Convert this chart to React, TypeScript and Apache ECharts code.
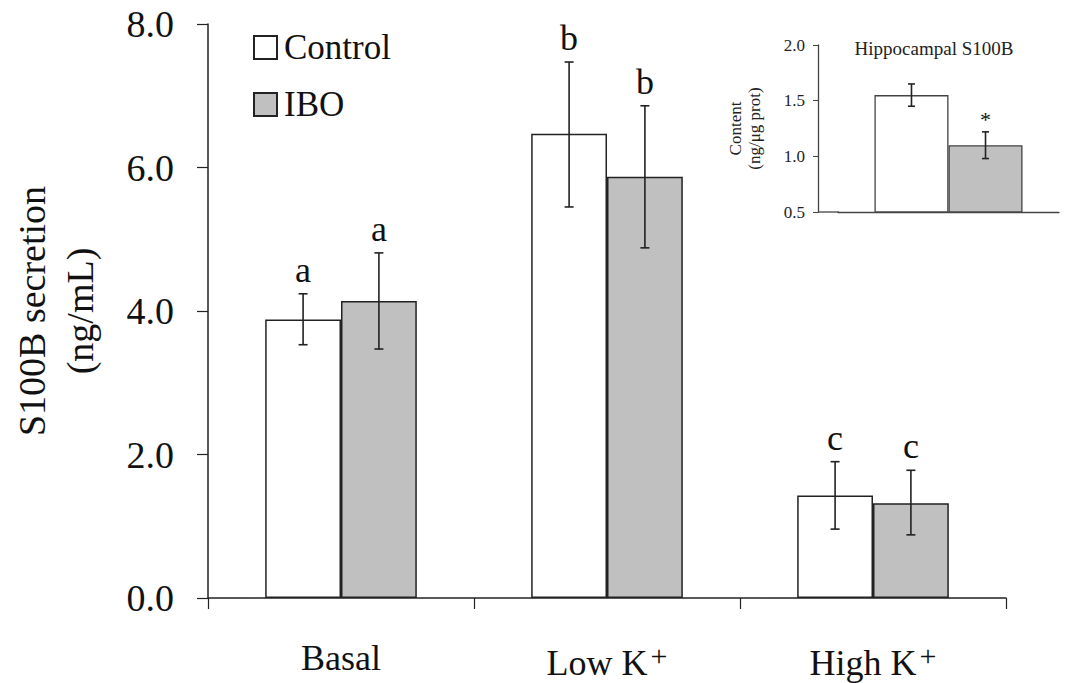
import React, { useEffect, useRef } from "react";
import * as echarts from "echarts";

const categories = ["Basal", "Low K+", "High K+"];
const controlMean = [3.88, 6.47, 1.43];
const controlLow = [3.53, 5.45, 0.96];
const controlHigh = [4.24, 7.47, 1.9];
const controlLetters = ["a", "b", "c"];
const iboMean = [4.14, 5.87, 1.32];
const iboLow = [3.47, 4.88, 0.88];
const iboHigh = [4.81, 6.86, 1.78];
const iboLetters = ["a", "b", "c"];

const insetCategory = ["Hippocampus"];
const insetControlMean = [1.55];
const insetControlErr = [[1.45, 1.65]];
const insetIboMean = [1.1];
const insetIboErr = [[0.98, 1.22]];
const insetIboMark = ["*"];

const FONT = "Liberation Serif";
const MAIN_GAP = 0.43;
const INSET_GAP = 0.33;

function makeErrRender(sign: number, gap: number, cap: number, textSize: number, textOffset: number) {
  return (params: any, api: any) => {
    const idx = api.value(0);
    const low = api.value(1);
    const high = api.value(2);
    const label = api.value(3);
    const catW = api.size([1, 0])[0];
    const barW = (catW * (1 - gap)) / 2;
    const top = api.coord([idx, high]);
    const bot = api.coord([idx, low]);
    const x = top[0] + (sign * barW) / 2;
    const style = { stroke: "#222", lineWidth: 1.6 };
    const children: any[] = [
      { type: "line", shape: { x1: x, y1: top[1], x2: x, y2: bot[1] }, style },
      { type: "line", shape: { x1: x - cap / 2, y1: top[1], x2: x + cap / 2, y2: top[1] }, style },
      { type: "line", shape: { x1: x - cap / 2, y1: bot[1], x2: x + cap / 2, y2: bot[1] }, style },
    ];
    if (label) {
      children.push({
        type: "text",
        style: {
          text: String(label),
          x,
          y: top[1] - textOffset,
          textAlign: "center",
          textVerticalAlign: "middle",
          fontFamily: FONT,
          fontSize: textSize,
          fill: "#111",
        },
      });
    }
    return { type: "group", children };
  };
}

function buildOption(): any {
  const barBorder = { borderColor: "#222", borderWidth: 1.5 };
  return {
    animation: false,
    backgroundColor: "#ffffff",
    textStyle: { fontFamily: FONT },
    title: {
      text: "Hippocampal S100B",
      left: 929,
      top: 34,
      textAlign: "center",
      textStyle: { fontFamily: FONT, fontSize: 19, fontWeight: "normal", color: "#222" },
    },
    legend: {
      data: ["Control", "IBO"],
      orient: "vertical",
      left: 248,
      top: 25,
      itemWidth: 23,
      itemHeight: 23,
      itemGap: 22,
      icon: "rect",
      textStyle: { fontFamily: FONT, fontSize: 35, color: "#111", padding: [0, 0, 0, 2] },
    },
    graphic: [
      {
        type: "line",
        shape: { x1: 818, y1: 212, x2: 839, y2: 212 },
        style: { stroke: "#444", lineWidth: 1.3 },
      },
    ],
    grid: [
      { left: 205, right: 68, top: 24, bottom: 85, containLabel: false },
      { left: 838, right: 15, top: 45, bottom: 471, containLabel: false },
    ],
    xAxis: [
      {
        type: "category",
        gridIndex: 0,
        data: categories,
        axisLine: { lineStyle: { color: "#222", width: 1.5 } },
        axisTick: { show: true, length: 11, lineStyle: { color: "#222", width: 1.2 } },
        axisLabel: {
          interval: 0,
          margin: 42,
          fontFamily: FONT,
          fontSize: 36,
          color: "#111",
          formatter: (v: string) =>
            v.indexOf("+") >= 0 ? "{n|" + v.replace("+", "") + "}{sup|+}" : "{n|" + v + "}",
          rich: {
            n: { fontFamily: FONT, fontSize: 36, color: "#111" },
            sup: { fontFamily: FONT, fontSize: 30, color: "#111", verticalAlign: "top", padding: [0, 0, 16, 3] },
          },
        },
      },
      {
        type: "category",
        gridIndex: 1,
        data: insetCategory,
        axisLine: { lineStyle: { color: "#444", width: 1.3 } },
        axisTick: { show: false },
        axisLabel: { show: false },
      },
    ],
    yAxis: [
      {
        type: "value",
        gridIndex: 0,
        min: 0,
        max: 8,
        interval: 2,
        name: "S100B secretion\n(ng/mL)",
        nameLocation: "middle",
        nameGap: 104,
        nameTextStyle: { fontFamily: FONT, fontSize: 38, color: "#111", lineHeight: 48 },
        axisLine: { show: true, lineStyle: { color: "#222", width: 1.5 } },
        axisTick: { show: true, length: 11, lineStyle: { color: "#222", width: 1.2 } },
        splitLine: { show: false },
        axisLabel: {
          margin: 34,
          fontFamily: FONT,
          fontSize: 38,
          color: "#111",
          formatter: (v: number) => v.toFixed(1),
        },
      },
      {
        type: "value",
        gridIndex: 1,
        offset: 20,
        min: 0.5,
        max: 2.0,
        interval: 0.5,
        name: "Content\n(ng/\u03bcg prot)",
        nameLocation: "middle",
        nameGap: 54,
        nameTextStyle: { fontFamily: FONT, fontSize: 17, color: "#222", lineHeight: 19 },
        axisLine: { show: true, lineStyle: { color: "#444", width: 1.3 } },
        axisTick: { show: true, length: 5, lineStyle: { color: "#444" } },
        splitLine: { show: false },
        axisLabel: {
          margin: 13,
          fontFamily: FONT,
          fontSize: 17,
          color: "#222",
          formatter: (v: number) => v.toFixed(1),
        },
      },
    ],
    series: [
      {
        name: "Control",
        type: "bar",
        xAxisIndex: 0,
        yAxisIndex: 0,
        data: controlMean,
        barGap: "0%",
        barCategoryGap: MAIN_GAP * 100 + "%",
        itemStyle: { color: "#ffffff", ...barBorder },
      },
      {
        name: "IBO",
        type: "bar",
        xAxisIndex: 0,
        yAxisIndex: 0,
        data: iboMean,
        barGap: "0%",
        barCategoryGap: MAIN_GAP * 100 + "%",
        itemStyle: { color: "#c0c0c0", ...barBorder },
      },
      {
        name: "Control error",
        type: "custom",
        xAxisIndex: 0,
        yAxisIndex: 0,
        renderItem: makeErrRender(-1, MAIN_GAP, 9, 36, 24),
        data: categories.map((_, i) => [i, controlLow[i], controlHigh[i], controlLetters[i]]),
        z: 5,
      },
      {
        name: "IBO error",
        type: "custom",
        xAxisIndex: 0,
        yAxisIndex: 0,
        renderItem: makeErrRender(1, MAIN_GAP, 9, 36, 24),
        data: categories.map((_, i) => [i, iboLow[i], iboHigh[i], iboLetters[i]]),
        z: 5,
      },
      {
        name: "Inset Control",
        type: "bar",
        xAxisIndex: 1,
        yAxisIndex: 1,
        data: insetControlMean,
        barGap: "0%",
        barCategoryGap: INSET_GAP * 100 + "%",
        itemStyle: { color: "#ffffff", borderColor: "#444", borderWidth: 1.3 },
      },
      {
        name: "Inset IBO",
        type: "bar",
        xAxisIndex: 1,
        yAxisIndex: 1,
        data: insetIboMean,
        barGap: "0%",
        barCategoryGap: INSET_GAP * 100 + "%",
        itemStyle: { color: "#c0c0c0", borderColor: "#444", borderWidth: 1.3 },
      },
      {
        name: "Inset Control error",
        type: "custom",
        xAxisIndex: 1,
        yAxisIndex: 1,
        renderItem: makeErrRender(-1, INSET_GAP, 7, 20, 14),
        data: insetCategory.map((_, i) => [i, insetControlErr[i][0], insetControlErr[i][1], ""]),
        z: 5,
      },
      {
        name: "Inset IBO error",
        type: "custom",
        xAxisIndex: 1,
        yAxisIndex: 1,
        renderItem: makeErrRender(1, INSET_GAP, 7, 22, 12),
        data: insetCategory.map((_, i) => [i, insetIboErr[i][0], insetIboErr[i][1], insetIboMark[i]]),
        z: 5,
      },
    ],
  };
}

export default function App() {
  const ref = useRef<HTMLDivElement>(null);
  useEffect(() => {
    document.body.style.margin = "0";
    let chart: any = echarts.init(ref.current!, undefined, { renderer: "svg" });
    chart.setOption(buildOption());
    let alive = true;
    const redraw = () => {
      if (!alive || !ref.current) return;
      chart.dispose();
      chart = echarts.init(ref.current, undefined, { renderer: "svg" });
      chart.setOption(buildOption());
    };
    const fontsApi: any = (document as any).fonts;
    if (fontsApi && fontsApi.load) {
      Promise.all([
        fontsApi.load("36px 'Liberation Serif'"),
        fontsApi.load("17px 'Liberation Serif'"),
      ])
        .then(() => redraw())
        .catch(() => {});
    }
    const t1 = setTimeout(redraw, 60);
    const t2 = setTimeout(redraw, 250);
    return () => {
      alive = false;
      clearTimeout(t1);
      clearTimeout(t2);
      chart.dispose();
    };
  }, []);
  return <div ref={ref} style={{ width: 1074, height: 683 }} />;
}
